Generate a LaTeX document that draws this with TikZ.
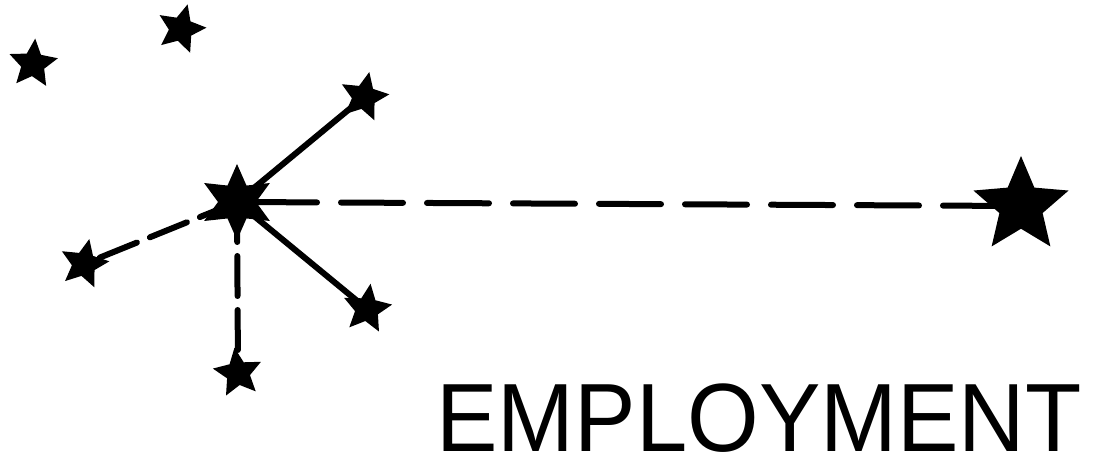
\documentclass[tikz,border=0pt]{standalone}
\usepackage{fontspec}
\setmainfont{Liberation Sans}
\usetikzlibrary{shapes.geometric,backgrounds}
\tikzset{
  starnode/.style={star, star points=5, star point ratio=2.1, fill=black, draw=none, inner sep=0pt},
  smallstar/.style={starnode, minimum size=51pt},
  conn/.style={line width=6pt, line cap=round, black},
  shortdash/.style={conn, dash pattern=on 40pt off 14pt},
}
\begin{document}
\begin{tikzpicture}[x=1pt,y=-1pt]
\useasboundingbox (0,0) rectangle (1093,465);
\node[smallstar, shape border rotate=-5] (s1) at (33,64) {};
\node[smallstar, shape border rotate=-15] (s2) at (181,29) {};
\node[smallstar, shape border rotate=-12] (s3) at (364,97) {};
\node[starnode, star points=6, star point ratio=2.0, minimum size=76pt, shape border rotate=0] (c) at (237,202) {};
\node[smallstar, shape border rotate=-12] (s4) at (84,264) {};
\node[smallstar, shape border rotate=-8] (s5) at (367,309) {};
\node[smallstar, shape border rotate=8] (s6) at (238,373) {};
\node[starnode, star point ratio=2.2, minimum size=100pt] (big) at (1021,206) {};
\begin{scope}[on background layer]
\draw[conn] (c.center) -- (s3.center);
\draw[conn] (c.center) -- (s5.center);
\draw[shortdash] (c.center) -- (s4.center);
\draw[shortdash] (c.center) -- (s6.center);
\draw[conn, dash pattern=on 62pt off 24pt, dash phase=68pt] (c.center) -- (big.center);
\end{scope}
\node[inner sep=0pt, xscale=0.95, font=\fontsize{97}{97}\selectfont] (t) at (759,418) {EMPLOYMENT};
\end{tikzpicture}
\end{document}
